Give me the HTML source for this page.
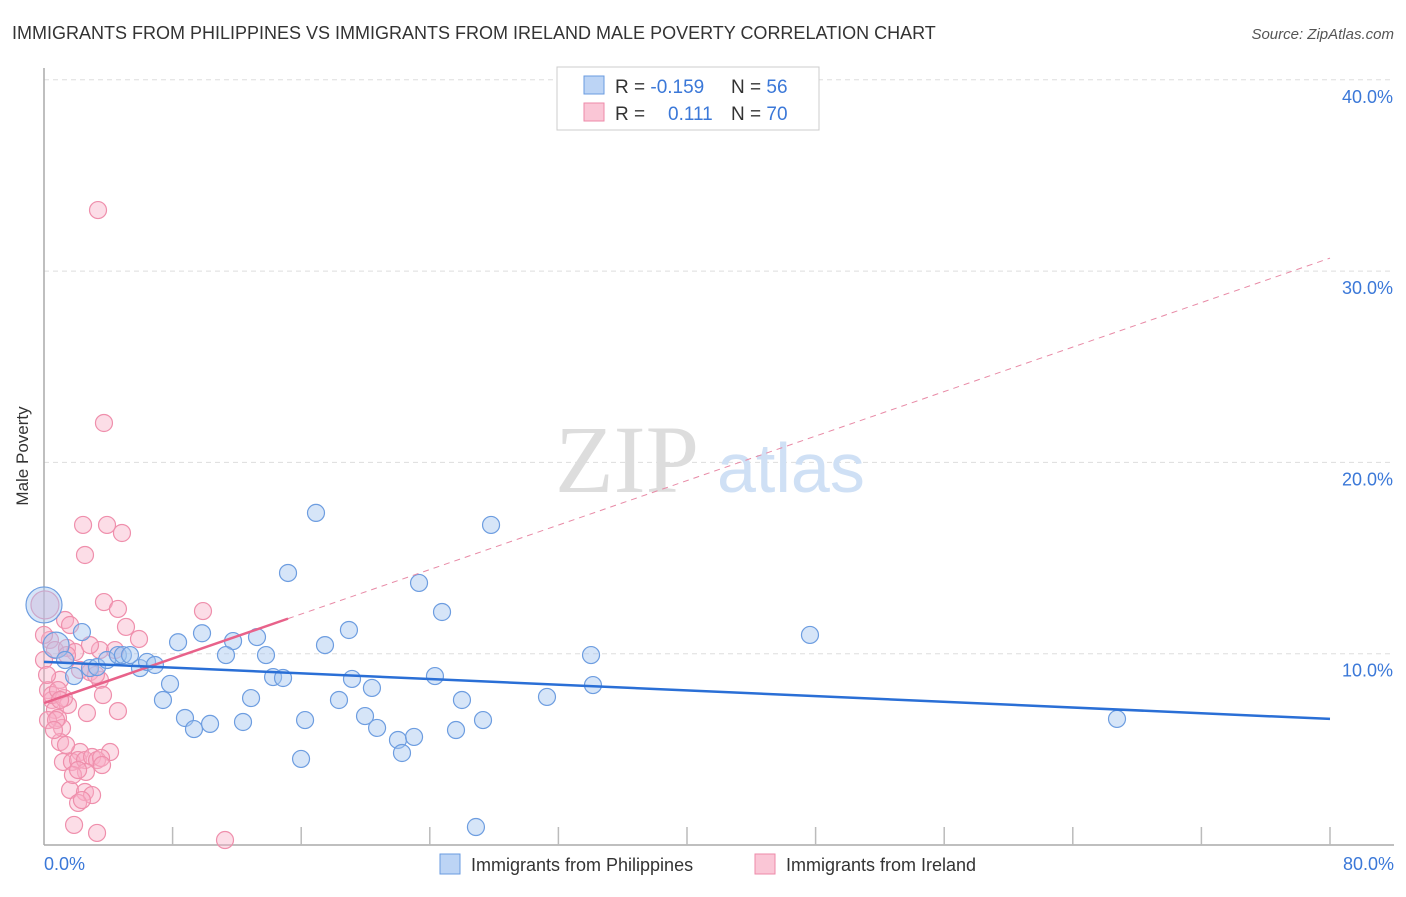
<!DOCTYPE html>
<html><head><meta charset="utf-8"><style>
body{margin:0;background:#fff;font-family:"Liberation Sans",sans-serif;}
svg text{font-family:"Liberation Sans",sans-serif;}
</style></head><body>
<svg width="1406" height="892" viewBox="0 0 1406 892">
<text x="12" y="39" font-size="18" fill="#333">IMMIGRANTS FROM PHILIPPINES VS IMMIGRANTS FROM IRELAND MALE POVERTY CORRELATION CHART</text>
<text x="1394" y="39" font-size="15" fill="#555" font-style="italic" text-anchor="end">Source: ZipAtlas.com</text>
<g id="grid"></g>
<text x="555" y="492" font-size="96" fill="#ddd" font-family="Liberation Serif" style="font-family:'Liberation Serif',serif">ZIP</text>
<text x="717" y="492" font-size="70" fill="#cfe0f5">atlas</text>
<line x1="44" y1="68" x2="44" y2="845" stroke="#aaa" stroke-width="1.5"/>
<line x1="44" y1="845" x2="1394" y2="845" stroke="#aaa" stroke-width="1.5"/>
<g id="ticks"></g>
<text x="28" y="456" font-size="17" fill="#333" text-anchor="middle" transform="rotate(-90 28 456)">Male Poverty</text>
<text x="44" y="870" font-size="18" fill="#3b78d8">0.0%</text>
<text x="1394" y="870" font-size="18" fill="#3b78d8" text-anchor="end">80.0%</text>
<g id="pts"></g>
<g id="lines"></g>
<g>
<rect x="557" y="67" width="262" height="63" fill="#fff" stroke="#ccc"/>
<rect x="584" y="76" width="20" height="18" fill="#bcd4f5" stroke="#6a9be0"/>
<rect x="584" y="103" width="20" height="18" fill="#fac6d6" stroke="#ee8aa8"/>
<text x="615" y="93" font-size="19" fill="#333">R = <tspan fill="#3b78d8">-0.159</tspan></text>
<text x="731" y="93" font-size="19" fill="#333">N = <tspan fill="#3b78d8">56</tspan></text>
<text x="615" y="120" font-size="19" fill="#333">R = <tspan fill="#3b78d8" x="668">0.111</tspan></text>
<text x="731" y="120" font-size="19" fill="#333">N = <tspan fill="#3b78d8">70</tspan></text>
</g>
<g>
<rect x="440" y="854" width="20" height="20" fill="#bcd4f5" stroke="#6a9be0"/>
<text x="471" y="871" font-size="18" fill="#333">Immigrants from Philippines</text>
<rect x="755" y="854" width="20" height="20" fill="#fac6d6" stroke="#ee8aa8"/>
<text x="786" y="871" font-size="18" fill="#333">Immigrants from Ireland</text>
</g>
</svg>
<script>
const yTicks=[10,20,30,40];
const xTicks=[8,16,24,32,40,48,56,64,72,80];
const blueX=[0,0.75,2.36,1.31,1.87,2.86,3.3,3.92,4.6,4.91,5.35,5.97,6.41,6.9,8.34,9.83,11.76,13.25,13.81,11.32,7.84,7.4,8.77,9.33,10.33,12.38,12.88,14.25,14.87,16.24,15.99,15.18,16.92,17.48,18.97,19.16,18.35,19.97,20.4,20.72,22.02,22.27,23.02,23.33,24.32,24.76,25.63,26.0,27.31,27.81,26.87,31.29,34.03,34.15,47.65,66.75];
const blueY=[12.55,10.45,11.13,9.67,8.83,9.25,9.3,9.67,9.93,9.93,9.93,9.25,9.57,9.41,10.6,11.07,10.66,10.87,9.93,9.93,8.42,7.58,6.64,6.06,6.33,6.43,7.68,8.78,8.73,6.53,4.5,14.22,17.36,10.45,11.24,8.68,7.58,6.74,8.21,6.12,5.49,4.81,5.65,13.7,8.83,12.18,6.01,7.58,6.53,16.73,0.94,7.74,9.93,8.36,10.98,6.59];
const pinkX=[3.36,3.73,2.43,3.92,4.85,2.55,3.73,4.6,5.1,5.91,9.89,1.31,1.62,0.37,0.68,1.43,3.48,4.42,1.0,2.24,2.86,3.48,3.67,4.6,3.23,0.25,0.5,0.68,0.87,1.12,1.49,2.67,1.0,2.24,4.11,1.18,1.74,2.12,2.55,2.99,3.3,2.61,1.62,2.55,2.99,2.12,2.36,1.87,3.3,11.26,0,0,0.19,0.5,0.25,0.75,1.24,1.8,3.55,1.93,2.86,3.61,0.87,1.37,0.06,1.43,0.62,2.12,1.0];
const pinkY=[33.19,22.06,16.73,16.73,16.31,15.16,12.7,12.34,11.4,10.77,12.23,11.76,11.5,10.72,10.19,10.3,10.19,10.19,8.63,9.15,9.04,8.63,7.84,7.0,8.89,8.1,7.58,7.06,6.64,6.12,7.32,6.9,5.38,4.86,4.86,4.34,4.34,4.44,4.44,4.6,4.44,3.82,2.88,2.77,2.61,2.2,2.35,1.05,0.63,0.26,10.98,9.67,8.89,7.84,6.53,6.53,7.68,3.66,4.55,10.09,10.45,4.18,8.1,5.23,12.55,9.93,6.01,3.92,7.58];
const blueTrend=[9.57,6.59]; // value at x=0 and x=80
const pinkTrend=[7.42,30.68];
const pinkSolidEnd=15.18;
const NS='http://www.w3.org/2000/svg';
const sx=v=>44+v*1286/80, sy=v=>845-v*19.13;
function mk(tag,attrs,parent){const e=document.createElementNS(NS,tag);for(const k in attrs)e.setAttribute(k,attrs[k]);parent.appendChild(e);return e;}
const grid=document.getElementById('grid');
yTicks.forEach(t=>{
 const l=mk('line',{x1:44,x2:1394,y1:sy(t),y2:sy(t),stroke:'#ddd','stroke-dasharray':'5,4'},grid);
 
 
 const tx=mk('text',{x:1393,y:sy(t)+23,'font-size':18,fill:'#3b78d8','text-anchor':'end'},grid);
 tx.textContent=t.toFixed(1)+'%';
 
 
});
const ticks=document.getElementById('ticks');
xTicks.forEach(t=>{
 const l=mk('line',{x1:sx(t),x2:sx(t),y1:827,y2:845,stroke:'#bbb','stroke-width':1.5},ticks);
 
 
});
const pts=document.getElementById('pts');
pinkX.forEach((x,i)=>{
 const c=mk('circle',{cx:sx(x),cy:sy(pinkY[i]),r:(i==64?14:8.5),fill:'rgba(248,175,198,0.42)',stroke:'#ef8fac','stroke-width':1.2},pts);
 
 
});
blueX.forEach((x,i)=>{
 const c=mk('circle',{cx:sx(x),cy:sy(blueY[i]),r:(i==0?18:(i==1?13:8.5)),fill:'rgba(165,198,240,0.45)',stroke:'#6d9de0','stroke-width':1.2},pts);
 
 
});
const lines=document.getElementById('lines');
const pAt=x=>pinkTrend[0]+(pinkTrend[1]-pinkTrend[0])*x/80;
const d=mk('line',{x1:sx(pinkSolidEnd),y1:sy(pAt(pinkSolidEnd)),x2:sx(80),y2:sy(pinkTrend[1]),stroke:'#e88aa6','stroke-width':1,'stroke-dasharray':'6,5'},lines);


const ps=mk('line',{x1:sx(0),y1:sy(pinkTrend[0]),x2:sx(pinkSolidEnd),y2:sy(pAt(pinkSolidEnd)),stroke:'#e8628a','stroke-width':2.5},lines);


const bl=mk('line',{x1:sx(0),y1:sy(blueTrend[0]),x2:sx(80),y2:sy(blueTrend[1]),stroke:'#2a6fd6','stroke-width':2.5},lines);


</script>
</body></html>
